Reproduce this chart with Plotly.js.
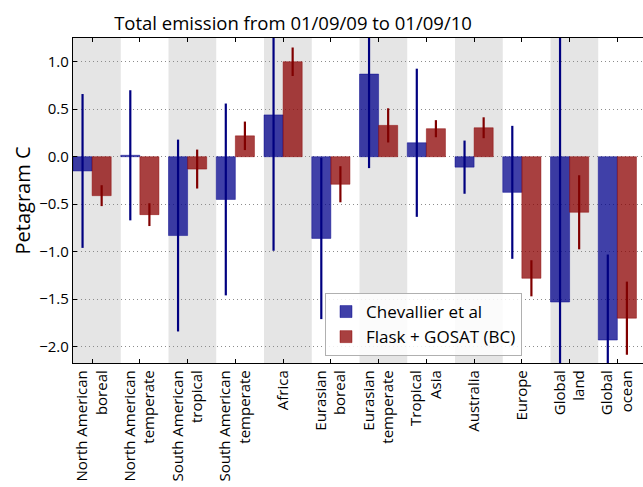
<!DOCTYPE html>
<html>
<head>
<meta charset="utf-8">
<script src="https://cdn.plot.ly/plotly-3.0.1.min.js"></script>
<style>
html, body { margin: 0; padding: 0; overflow: hidden; background: #fff; }
#chart { width: 646px; height: 487px; }
</style>
</head>
<body>
<div id="chart"></div>
<script>
const categories = ["North American<br>boreal", "North American<br>temperate", "South American<br>tropical", "South American<br>temperate", "Africa", "Eurasian<br>boreal", "Eurasian<br>temperate", "Tropical<br>Asia", "Australia", "Europe", "Global<br>land", "Global<br>ocean"];
const chevallier = [-0.15, 0.015, -0.83, -0.45, 0.44, -0.86, 0.87, 0.147, -0.11, -0.375, -1.53, -1.93];
const chevallierErr = [0.81, 0.685, 1.01, 1.01, 1.43, 0.85, 0.99, 0.78, 0.28, 0.70, 2.9, 0.9];
const flask = [-0.41, -0.61, -0.13, 0.22, 1.00, -0.29, 0.33, 0.295, 0.305, -1.28, -0.585, -1.70];
const flaskErr = [0.11, 0.12, 0.205, 0.15, 0.15, 0.19, 0.18, 0.09, 0.11, 0.19, 0.39, 0.385];
const yTicks = [1.0, 0.5, 0.0, -0.5, -1.0, -1.5, -2.0];

const FONT = "Open Sans, DejaVu Sans, sans-serif";
const idx = categories.map((_, i) => i);
const fmt = v => (v < 0 ? "\u2212" : "") + Math.abs(v).toFixed(1);

const traces = [
  {
    type: "bar", name: "Chevallier et al",
    x: idx.map(i => i - 0.2), y: chevallier, width: 0.4,
    marker: { color: "rgba(0,0,139,0.75)", line: { color: "rgba(0,0,139,0.45)", width: 1 } },
    error_y: { type: "data", array: chevallierErr, visible: true, color: "#000080", thickness: 2.2, width: 0 },
    hoverinfo: "skip"
  },
  {
    type: "bar", name: "Flask + GOSAT (BC)",
    x: idx.map(i => i + 0.2), y: flask, width: 0.4,
    marker: { color: "rgba(139,0,0,0.75)", line: { color: "rgba(139,0,0,0.45)", width: 1 } },
    error_y: { type: "data", array: flaskErr, visible: true, color: "#800000", thickness: 2.2, width: 0 },
    hoverinfo: "skip"
  }
];

const shapes = idx.filter(i => i % 2 === 0).map(i => ({
  type: "rect", xref: "x", yref: "paper", x0: i - 0.4, x1: i + 0.6, y0: 0, y1: 1,
  fillcolor: "#e5e5e5", line: { width: 0 }, layer: "below"
}));

const layout = {
  width: 646, height: 487,
  margin: { l: 73, r: 0, t: 38, b: 124 },
  paper_bgcolor: "#fff", plot_bgcolor: "#fff",
  font: { family: FONT, color: "#000", size: 14 },
  title: { text: "Total emission from 01/09/09 to 01/09/10", font: { family: FONT, size: 18.5, color: "#000" },
           xref: "container", x: 293 / 646, xanchor: "center", yref: "container", y: 1 - 24 / 487, yanchor: "middle" },
  barmode: "overlay",
  showlegend: true,
  legend: { x: (325 - 73) / 573, xanchor: "left", y: (363 - 293) / 325, yanchor: "top",
            bgcolor: "rgba(255,255,255,0.85)", bordercolor: "#b0b0b0", borderwidth: 1,
            font: { family: FONT, size: 17, color: "#000" }, tracegroupgap: 0 },
  xaxis: {
    range: [-0.4, 11.6], tickmode: "array", tickvals: idx, ticktext: categories,
    tickangle: -90, ticks: "inside", ticklen: 4, tickcolor: "#000",
    showline: true, linecolor: "#000", linewidth: 1.2, mirror: "ticks",
    showgrid: false, zeroline: false, tickfont: { family: FONT, size: 15 }
  },
  yaxis: {
    range: [-2.172, 1.25], tickmode: "array", tickvals: yTicks, ticktext: yTicks.map(fmt),
    ticks: "inside", ticklen: 4, tickcolor: "#000",
    showline: true, linecolor: "#000", linewidth: 1.2,
    showgrid: true, gridcolor: "#8c8c8c", griddash: "1px,3px", gridwidth: 1, zeroline: false,
    tickfont: { family: FONT, size: 15 },
    title: { text: "Petagram C", font: { family: FONT, size: 20 }, standoff: 3 }
  },
  shapes: shapes
};

Plotly.newPlot("chart", traces, layout, { staticPlot: true, displayModeBar: false });
</script>
</body>
</html>
